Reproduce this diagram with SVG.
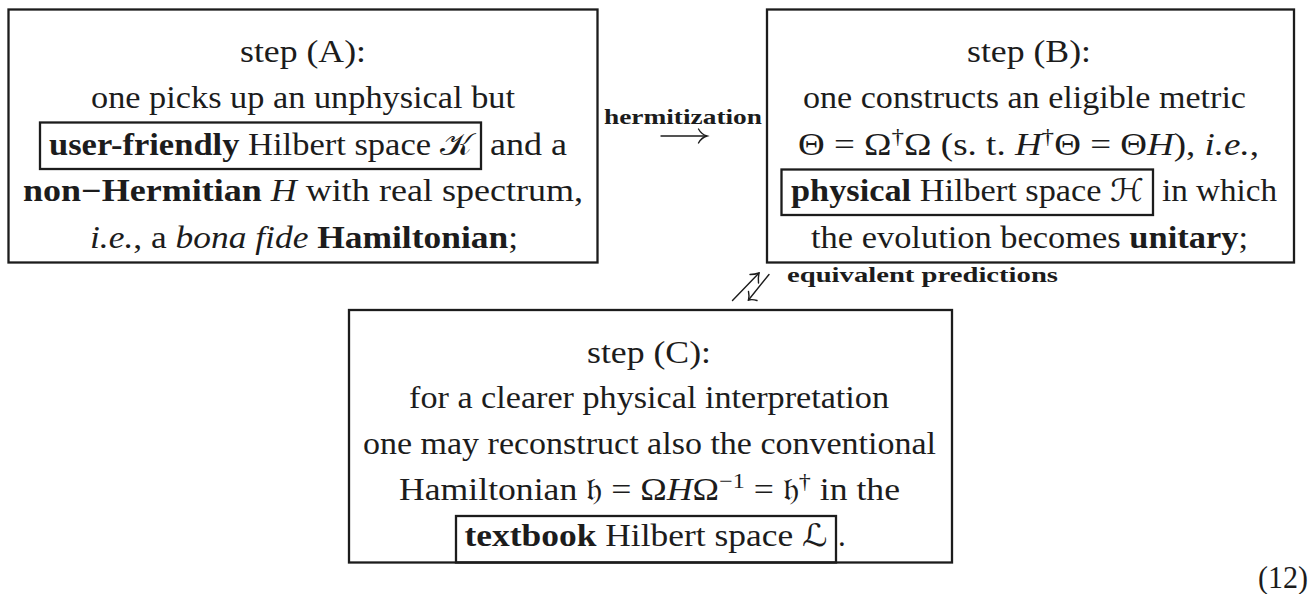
<svg xmlns="http://www.w3.org/2000/svg" width="1312" height="594" viewBox="0 0 1312 594">
<style>
.box{fill:none;stroke:#1c1c1c;stroke-width:2.3}
.ibox{fill:none;stroke:#1c1c1c;stroke-width:2.3}
.t{font-family:"Liberation Serif","DejaVu Serif",serif;font-size:31px;fill:#1c1c1c}
.b{font-weight:bold}
.i{font-style:italic}
.cal{font-family:"DejaVu Serif","DejaVu Sans","Liberation Serif",serif;font-style:normal}
.sup{font-size:21px}
.lbl{font-family:"Liberation Serif","DejaVu Serif",serif;font-size:21px;font-weight:bold;fill:#1c1c1c}
.arr{fill:none;stroke:#1c1c1c;stroke-width:1.4;stroke-linecap:round}
</style>
<rect width="1312" height="594" fill="#ffffff"/>

<g id="stepA">
  <rect class="box" x="8.5" y="9.5" width="589" height="253"/>
  <rect class="ibox" x="40" y="122.5" width="441" height="46.5"/>
  <text class="t" x="240" y="62" textLength="126" lengthAdjust="spacingAndGlyphs">step (A):</text>
  <text class="t" x="91" y="108" textLength="424" lengthAdjust="spacingAndGlyphs">one picks up an unphysical but</text>
  <text class="t" x="49" y="155" textLength="423" lengthAdjust="spacingAndGlyphs"><tspan class="b">user-friendly</tspan> Hilbert space <tspan class="cal">𝒦</tspan></text>
  <text class="t" x="490" y="155" textLength="77" lengthAdjust="spacingAndGlyphs">and a</text>
  <text class="t" x="23" y="201" textLength="560" lengthAdjust="spacingAndGlyphs"><tspan class="b">non−Hermitian</tspan> <tspan class="i">H</tspan> with real spectrum,</text>
  <text class="t" x="90" y="248" textLength="428" lengthAdjust="spacingAndGlyphs"><tspan class="i">i.e.</tspan>, a <tspan class="i">bona fide</tspan> <tspan class="b">Hamiltonian</tspan>;</text>
</g>

<g id="stepB">
  <rect class="box" x="767" y="9.5" width="527" height="253"/>
  <rect class="ibox" x="781.5" y="169.5" width="371.5" height="45.5"/>
  <text class="t" x="967" y="62" textLength="124" lengthAdjust="spacingAndGlyphs">step (B):</text>
  <text class="t" x="803" y="108" textLength="443" lengthAdjust="spacingAndGlyphs">one constructs an eligible metric</text>
  <text class="t" x="798" y="155" textLength="461" lengthAdjust="spacingAndGlyphs">Θ = Ω<tspan class="sup" dy="-12">†</tspan><tspan dy="12">Ω  (s. t. </tspan><tspan class="i">H</tspan><tspan class="sup" dy="-12">†</tspan><tspan dy="12">Θ = Θ</tspan><tspan class="i">H</tspan>), <tspan class="i">i.e.</tspan>,</text>
  <text class="t" x="791" y="201" textLength="353" lengthAdjust="spacingAndGlyphs"><tspan class="b">physical</tspan> Hilbert space <tspan class="cal">ℋ</tspan></text>
  <text class="t" x="1162" y="201" textLength="115" lengthAdjust="spacingAndGlyphs">in which</text>
  <text class="t" x="811" y="248" textLength="437" lengthAdjust="spacingAndGlyphs">the evolution becomes <tspan class="b">unitary</tspan>;</text>
</g>

<g id="stepC">
  <rect class="box" x="349" y="310" width="603" height="252.5"/>
  <rect class="ibox" x="456" y="516" width="380" height="46.5"/>
  <text class="t" x="587" y="363" textLength="124" lengthAdjust="spacingAndGlyphs">step (C):</text>
  <text class="t" x="409" y="408" textLength="480" lengthAdjust="spacingAndGlyphs">for a clearer physical interpretation</text>
  <text class="t" x="363" y="454" textLength="573" lengthAdjust="spacingAndGlyphs">one may reconstruct also the conventional</text>
  <text class="t" x="399" y="500" textLength="501" lengthAdjust="spacingAndGlyphs">Hamiltonian <tspan class="cal">𝔥</tspan> = Ω<tspan class="i">H</tspan>Ω<tspan class="sup" dy="-12">−1</tspan><tspan dy="12"> = </tspan><tspan class="cal">𝔥</tspan><tspan class="sup" dy="-12">†</tspan><tspan dy="12"> in the</tspan></text>
  <text class="t" x="464.5" y="546" textLength="363" lengthAdjust="spacingAndGlyphs"><tspan class="b">textbook</tspan> Hilbert space <tspan class="cal">ℒ</tspan></text>
  <text class="t" x="838" y="546">.</text>
</g>

<g id="connectors">
  <g id="hermitization">
    <text class="lbl" x="604" y="124" textLength="158" lengthAdjust="spacingAndGlyphs">hermitization</text>
    <path class="arr" d="M661,136 H706"/>
    <path class="arr" d="M698.5,129 Q701.5,134.5 707,136 Q701.5,137.5 698.5,143"/>
  </g>
  <g id="equivalent">
    <path class="arr" d="M732.5,300.5 L759,273"/>
    <path class="arr" d="M750,274.5 Q755,274.5 759,273 Q758,278 758.5,283"/>
    <path class="arr" d="M769,274.5 L748.5,300"/>
    <path class="arr" d="M748.5,291.5 Q749.5,296 748.5,300 Q752.5,299 757,300.5"/>
    <text class="lbl" x="787" y="282" textLength="271" lengthAdjust="spacingAndGlyphs">equivalent  predictions</text>
  </g>
</g>

<text id="eqnum" class="t" x="1258" y="588" textLength="50" lengthAdjust="spacingAndGlyphs">(12)</text>
</svg>
